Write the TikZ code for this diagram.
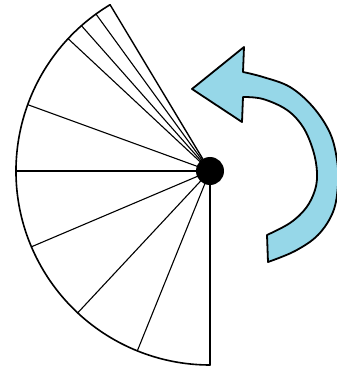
\documentclass[tikz,border=0pt]{standalone}
\usetikzlibrary{calc}
\definecolor{arrowblue}{RGB}{150,215,232}
\tikzset{
  rim/.style={line width=1.6pt, black},
  spoke/.style={line width=1.1pt, black},
  hubdot/.style={circle, fill=black, inner sep=0pt, minimum size=28pt},
  turnarrow/.style={fill=arrowblue, draw=black, line width=1.8pt, line join=round}
}
\begin{document}
\begin{tikzpicture}[x=1pt,y=1pt,line cap=round]
\useasboundingbox (0,0) rectangle (337,373);
\coordinate (c) at (210,202);
% rim points
\foreach \a/\n in {121/p1,126/p2,131.5/p3,137/p4,160/p5,180/p6,203/p7,227/p8,248/p9,270/p10}{
  \coordinate (\n) at ($(c)+(\a:194)$);
}
\draw[rim] (p1) arc (121:270:194);
\draw[spoke, line width=1.4pt] (c) -- (p1);
\foreach \n in {p2,p3,p4,p5,p6,p7,p8,p9,p10}{
  \draw[spoke] (c) -- (\n);
}
\node[hubdot] (hub) at (c) {};
% curved arrow
\draw[turnarrow] (268,111) -- (267,138)
  -- plot[smooth, tension=0.6] coordinates {(267,138) (290,150) (306,165) (315,183) (317,201) (313,223) (303,246) (287,263) (263,274) (243,276)}
  -- (242,251) -- (192,284) -- (244,326) -- (243,301)
  -- plot[smooth, tension=0.6] coordinates {(243,301) (263,296) (290,286) (313,266) (330,240) (337,213) (338,188) (333,161) (318,138) (295,122) (268,111)}
  -- cycle;
\end{tikzpicture}
\end{document}
